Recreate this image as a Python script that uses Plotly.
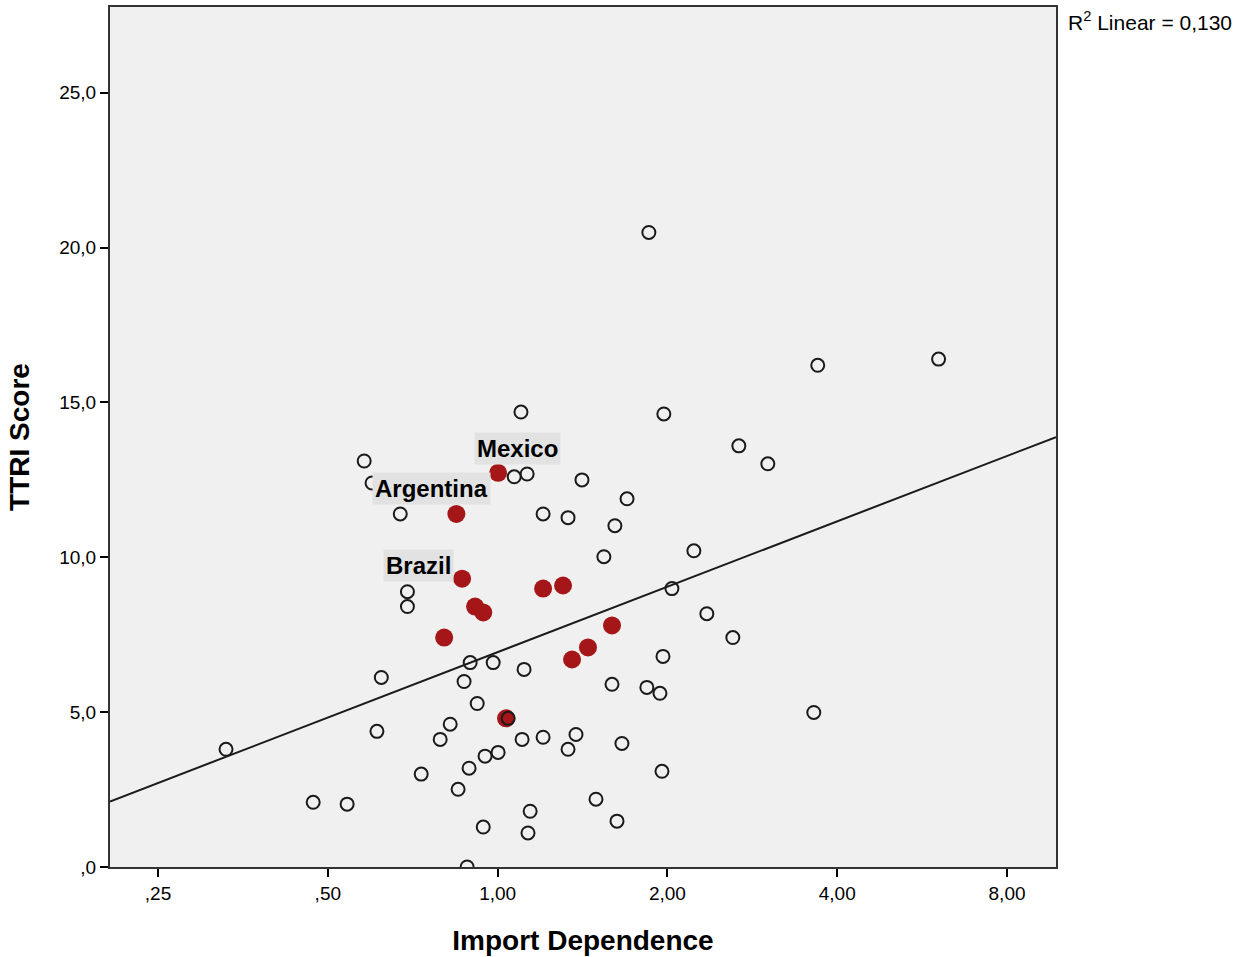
import numpy as np
import plotly.graph_objects as go

# Other countries (hollow markers)
other_import = [0.330, 0.471, 0.541, 0.580, 0.599, 0.672, 0.692, 0.692, 0.622, 0.611,
                0.732, 0.791, 0.824, 0.851, 0.872, 0.894, 0.890, 0.920, 0.943, 0.950,
                0.982, 1.002, 0.883, 1.044, 1.070, 1.128, 1.100, 1.105, 1.114, 1.132,
                1.142, 1.204, 1.204, 1.333, 1.333, 1.377, 1.411, 1.494, 1.543, 1.595,
                1.614, 1.628, 1.661, 1.696, 1.854, 1.839, 1.940, 1.956, 1.964, 1.971,
                2.037, 2.228, 2.349, 2.612, 2.677, 3.013, 3.635, 3.694, 6.05]
other_ttri = [3.80, 2.09, 2.03, 13.11, 12.40, 11.40, 8.89, 8.41, 6.12, 4.38,
              3.00, 4.12, 4.61, 2.51, 5.99, 6.60, 3.19, 5.28, 1.29, 3.58,
              6.60, 3.70, 0.0, 4.80, 12.60, 12.69, 14.69, 4.12, 6.38, 1.10,
              1.80, 11.40, 4.19, 11.28, 3.80, 4.28, 12.50, 2.19, 10.02, 5.90,
              11.02, 1.48, 3.99, 11.89, 20.49, 5.80, 5.61, 3.09, 6.80, 14.63,
              8.99, 10.21, 8.18, 7.41, 13.60, 13.02, 4.99, 16.20, 16.40]

# Latin American countries (red markers)
latam_names = ["Mexico", "Argentina", "Brazil", "", "", "", "", "", "", "", "", ""]
latam_import = [1.002, 0.845, 0.865, 0.912, 0.943, 1.204, 1.306, 0.804, 1.595, 1.446, 1.355, 1.035]
latam_ttri = [12.73, 11.40, 9.31, 8.41, 8.22, 8.99, 9.09, 7.41, 7.80, 7.09, 6.70, 4.80]

x_ticks = [0.25, 0.5, 1, 2, 4, 8]
x_ticktext = [",25", ",50", "1,00", "2,00", "4,00", "8,00"]
y_ticks = [0, 5, 10, 15, 20, 25]
y_ticktext = [",0", "5,0", "10,0", "15,0", "20,0", "25,0"]
r2_text = "R<sup>2</sup> Linear = 0,130"

x_min, x_max = 0.2055, 9.77
y_min, y_max = 0, 27.77

# Linear fit on log2(import dependence)
all_x = np.array(other_import + latam_import)
all_y = np.array(other_ttri + latam_ttri)
slope, intercept = np.polyfit(np.log2(all_x), all_y, 1)
fit_x = np.array([x_min, x_max])
fit_y = intercept + slope * np.log2(fit_x)

FONT = "Liberation Sans, Arial, sans-serif"

fig = go.Figure()
fig.add_trace(go.Scatter(x=fit_x, y=fit_y, mode="lines",
                         line=dict(color="#1a1a1a", width=2), showlegend=False,
                         hoverinfo="skip"))
fig.add_trace(go.Scatter(x=latam_import, y=latam_ttri, mode="markers",
                         marker=dict(symbol="circle", size=18, color="#a51619",
                                     line=dict(width=0)),
                         showlegend=False))
fig.add_trace(go.Scatter(x=other_import, y=other_ttri, mode="markers",
                         marker=dict(symbol="circle", size=13, color="rgba(0,0,0,0)",
                                     line=dict(color="#1a1a1a", width=2)),
                         showlegend=False))

label_shift = {"Mexico": (19, 24), "Argentina": (-25, 25), "Brazil": (-44, 13)}
for name, xv, yv in zip(latam_names, latam_import, latam_ttri):
    if name:
        dx, dy = label_shift[name]
        fig.add_annotation(x=np.log10(xv), y=yv, xref="x", yref="y", text="<b>%s</b>" % name,
                           showarrow=False, xshift=dx, yshift=dy, bgcolor="#e2e2e2",
                           borderpad=2, font=dict(family=FONT, size=24, color="black"))

fig.add_annotation(x=1.0, y=1.0, xref="paper", yref="paper", xanchor="left", yanchor="top",
                   xshift=10, yshift=1, text=r2_text, showarrow=False,
                   font=dict(family=FONT, size=21, color="black"))

fig.update_layout(
    width=1244, height=957,
    margin=dict(l=110, r=188, t=5, b=90),
    paper_bgcolor="white", plot_bgcolor="#f0f0f0",
    font=dict(family=FONT, size=19, color="black"),
    xaxis=dict(type="log", range=[np.log10(x_min), np.log10(x_max)],
               tickvals=x_ticks, ticktext=x_ticktext, ticks="outside", ticklen=8,
               tickwidth=2, tickcolor="black", showgrid=False, zeroline=False,
               showline=True, linecolor="#333", linewidth=2, mirror=True,
               title=dict(text="<b>Import Dependence</b>", font=dict(size=28), standoff=28)),
    yaxis=dict(range=[y_min, y_max], tickvals=y_ticks, ticktext=y_ticktext,
               ticks="outside", ticklen=8, tickwidth=2, tickcolor="black",
               showgrid=False, zeroline=False, showline=True, linecolor="#333",
               linewidth=2, mirror=True,
               title=dict(text="<b>TTRI Score</b>", font=dict(size=28), standoff=21)),
)

fig.write_html("out.html", config={"displayModeBar": False},
               post_script="document.body.style.margin='0px';")
